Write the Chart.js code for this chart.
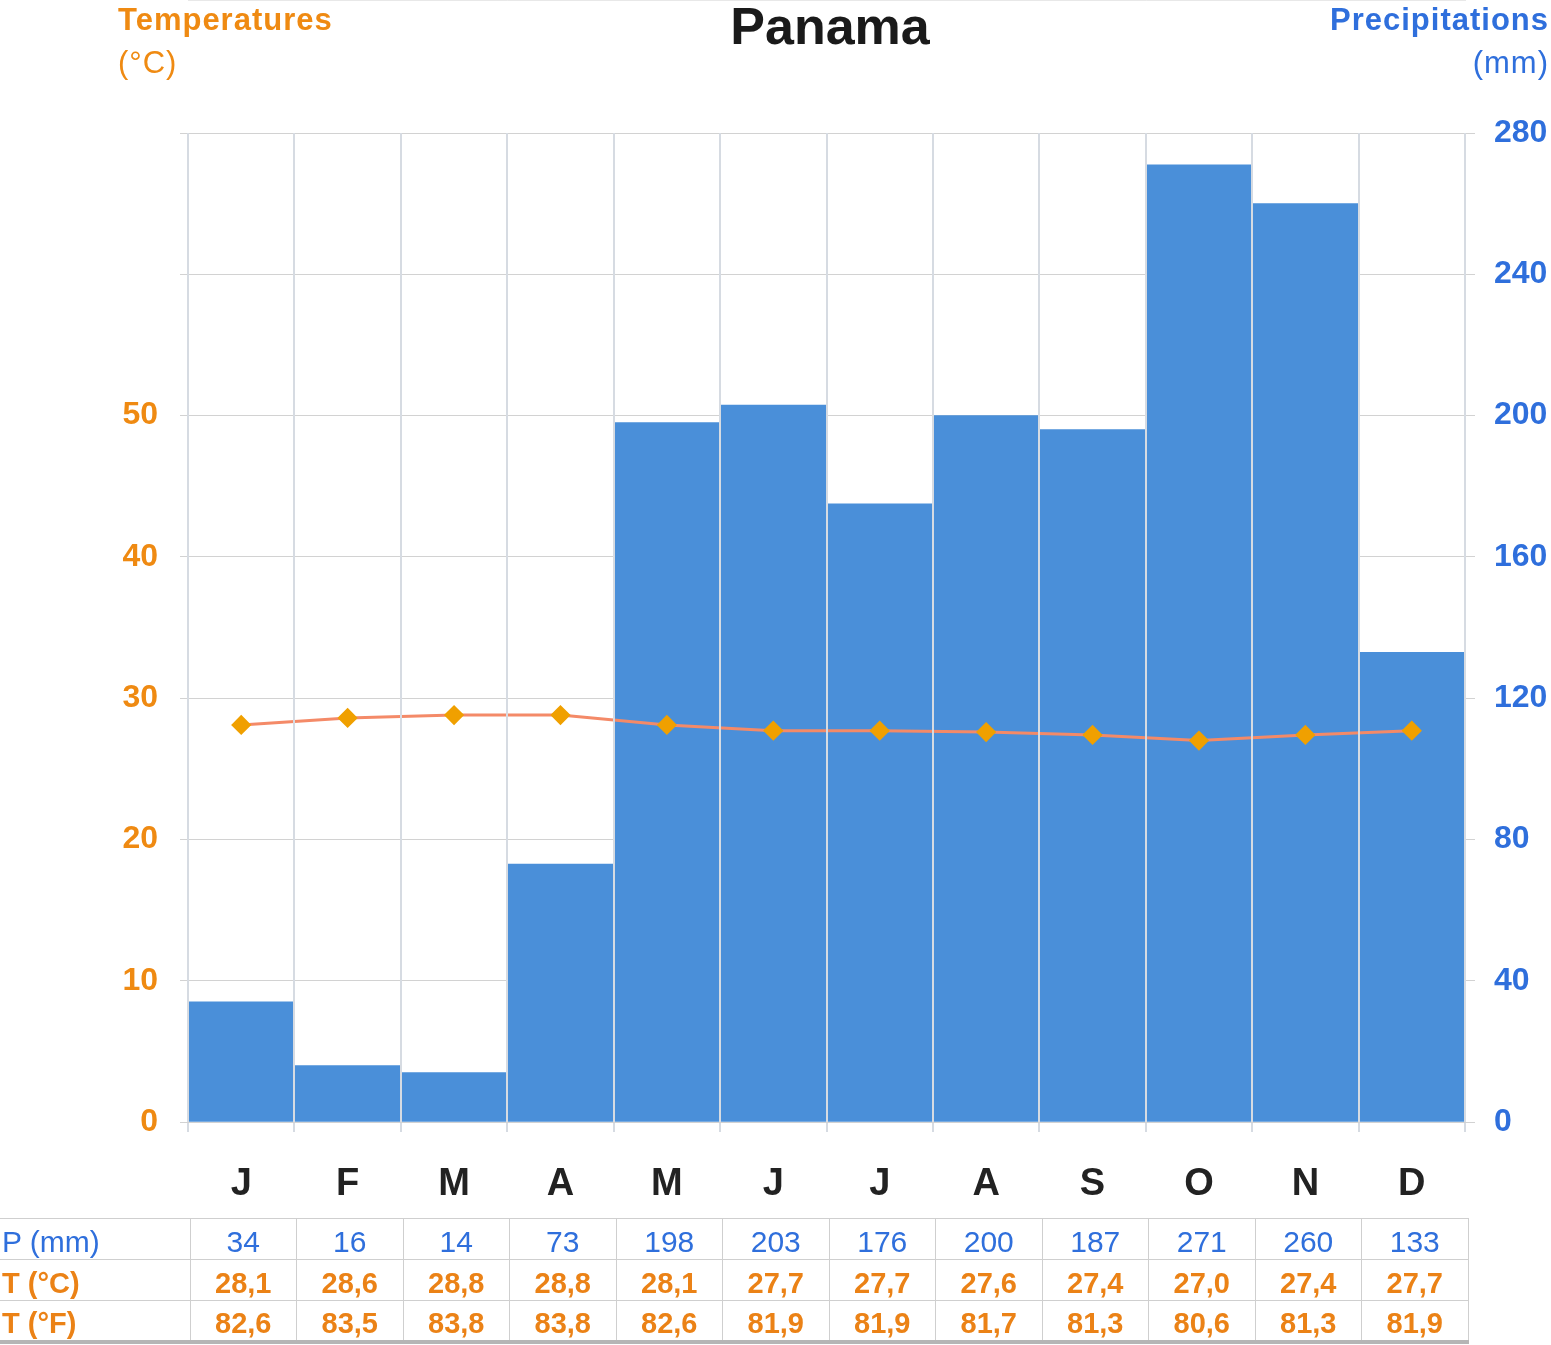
<!DOCTYPE html>
<html>
<head>
<meta charset="utf-8">
<title>Panama</title>
<script src="https://cdn.jsdelivr.net/npm/chart.js@4.4.1/dist/chart.umd.min.js"></script>
<style>
  html, body { margin: 0; padding: 0; background: #fff; }
  #wrap { position: relative; width: 1551px; height: 1345px; overflow: hidden; }
  #chart { position: absolute; left: 0; top: 0; }
  #table {
    position: absolute; left: 0; top: 1218px;
    border-collapse: collapse; table-layout: fixed; width: 1468px;
    font-family: "Liberation Sans", Arial, sans-serif; font-size: 30px;
  }
  #table tr { height: 41px; }
  #table td {
    padding: 5px 0 0 0; text-align: center; vertical-align: middle;
    border: 1px solid #cfcfcf; line-height: 30px;
  }
  #table td.lbl { text-align: left; border-left: none; padding-left: 2px; }
  #table tr:last-child td { border-bottom: 4px solid #b5b5b5; }
  .p { color: #2f6fdc; }
  .t { color: #eb8216; font-weight: bold; font-size: 29px; }
</style>
</head>
<body>
<div id="wrap">
  <canvas id="chart" width="1551" height="1345"></canvas>
  <table id="table"></table>
</div>
<script>
// Climogramme de Panama : précipitations (barres) et températures (ligne).

const MONTHS = ["J", "F", "M", "A", "M", "J", "J", "A", "S", "O", "N", "D"];
// hauteurs des barres telles que tracées
const PRECIP_BARS = [34, 16, 14, 73, 198, 203, 175, 200, 196, 271, 260, 133];
// valeurs imprimées dans le tableau
const PRECIP_MM = [34, 16, 14, 73, 198, 203, 176, 200, 187, 271, 260, 133];
const TEMP_C = [28.1, 28.6, 28.8, 28.8, 28.1, 27.7, 27.7, 27.6, 27.4, 27.0, 27.4, 27.7];
const TEMP_F = [82.6, 83.5, 83.8, 83.8, 82.6, 81.9, 81.9, 81.7, 81.3, 80.6, 81.3, 81.9];
const TEMP_MAX = 70, TEMP_STEP = 10, TEMP_LABEL_MAX = 50;
const PRECIP_MAX = 280, PRECIP_STEP = 40;

const FONT = '"Liberation Sans", Arial, sans-serif';
const ORANGE = "#ef8a12";
const BLUE = "#2f6fdc";
const GRID = "#d2d2d2";

const headerText = {
  id: "headerText",
  afterDraw(chart) {
    const ctx = chart.ctx;
    ctx.save();
    ctx.textBaseline = "middle";
    ctx.fillStyle = "#1a1a1a";
    ctx.font = `bold 52px ${FONT}`;
    ctx.textAlign = "center";
    ctx.fillText("Panama", 830, 30);

    ctx.letterSpacing = "1px";
    ctx.font = `bold 31px ${FONT}`;
    ctx.fillStyle = ORANGE;
    ctx.textAlign = "left";
    ctx.fillText("Temperatures", 118, 21);
    ctx.font = `31px ${FONT}`;
    ctx.fillText("(°C)", 118, 64);

    ctx.font = `bold 31px ${FONT}`;
    ctx.fillStyle = BLUE;
    ctx.textAlign = "right";
    ctx.fillText("Precipitations", 1549, 21);
    ctx.font = `31px ${FONT}`;
    ctx.fillText("(mm)", 1549, 64);
    ctx.restore();
  }
};

new Chart(document.getElementById("chart"), {
  data: {
    labels: MONTHS,
    datasets: [
      {
        type: "line",
        label: "T (°C)",
        data: TEMP_C,
        yAxisID: "yT",
        order: 1,
        borderColor: "#f48a68",
        borderWidth: 3,
        pointStyle: "rectRot",
        pointRadius: 8,
        pointBackgroundColor: "#f0a000",
        pointBorderColor: "#f0a000",
        tension: 0
      },
      {
        type: "bar",
        label: "P (mm)",
        data: PRECIP_BARS,
        yAxisID: "yP",
        order: 2,
        backgroundColor: "#4a8fd9",
        barPercentage: 1,
        categoryPercentage: 1
      }
    ]
  },
  options: {
    responsive: false,
    animation: false,
    layout: { padding: { top: 133, left: 0, right: 0, bottom: 0 } },
    plugins: { legend: { display: false }, title: { display: false }, tooltip: { enabled: false } },
    scales: {
      x: {
        offset: true,
        grid: { color: "#d6dbe2", lineWidth: 2, z: 1, offset: true, tickLength: 10 },
        border: { color: GRID },
        ticks: { color: "#222", font: { family: FONT, size: 38, weight: "bold" }, padding: 30, maxRotation: 0 },
        afterFit: s => { s.height = 1345 - 1122; }
      },
      yT: {
        position: "left",
        min: 0,
        max: TEMP_MAX,
        grid: { color: GRID, tickLength: 8 },
        border: { color: GRID },
        ticks: {
          stepSize: TEMP_STEP,
          color: ORANGE,
          font: { family: FONT, size: 32, weight: "bold" },
          padding: 22,
          callback: v => (v <= TEMP_LABEL_MAX ? v : "")
        },
        afterFit: s => { s.width = 188; }
      },
      yP: {
        position: "right",
        min: 0,
        max: PRECIP_MAX,
        grid: { color: GRID, drawOnChartArea: false, tickLength: 10 },
        border: { display: false },
        ticks: {
          stepSize: PRECIP_STEP,
          color: BLUE,
          font: { family: FONT, size: 32, weight: "bold" },
          padding: 19
        },
        afterFit: s => { s.width = 1551 - 1465; }
      }
    }
  },
  plugins: [headerText]
});

// tableau des valeurs sous le graphique
const fmt = v => v.toFixed(1).replace(".", ",");
const rows = [
  ["P (mm)", "p", PRECIP_MM.map(String)],
  ["T (°C)", "t", TEMP_C.map(fmt)],
  ["T (°F)", "t", TEMP_F.map(fmt)]
];
let html = '<colgroup><col style="width:190px">' + MONTHS.map(() => '<col style="width:106.5px">').join("") + "</colgroup>";
for (const [label, cls, vals] of rows) {
  html += `<tr><td class="lbl ${cls}">${label}</td>`;
  for (const v of vals) html += `<td class="${cls}">${v}</td>`;
  html += "</tr>";
}
document.getElementById("table").innerHTML = html;
</script>
</body>
</html>
